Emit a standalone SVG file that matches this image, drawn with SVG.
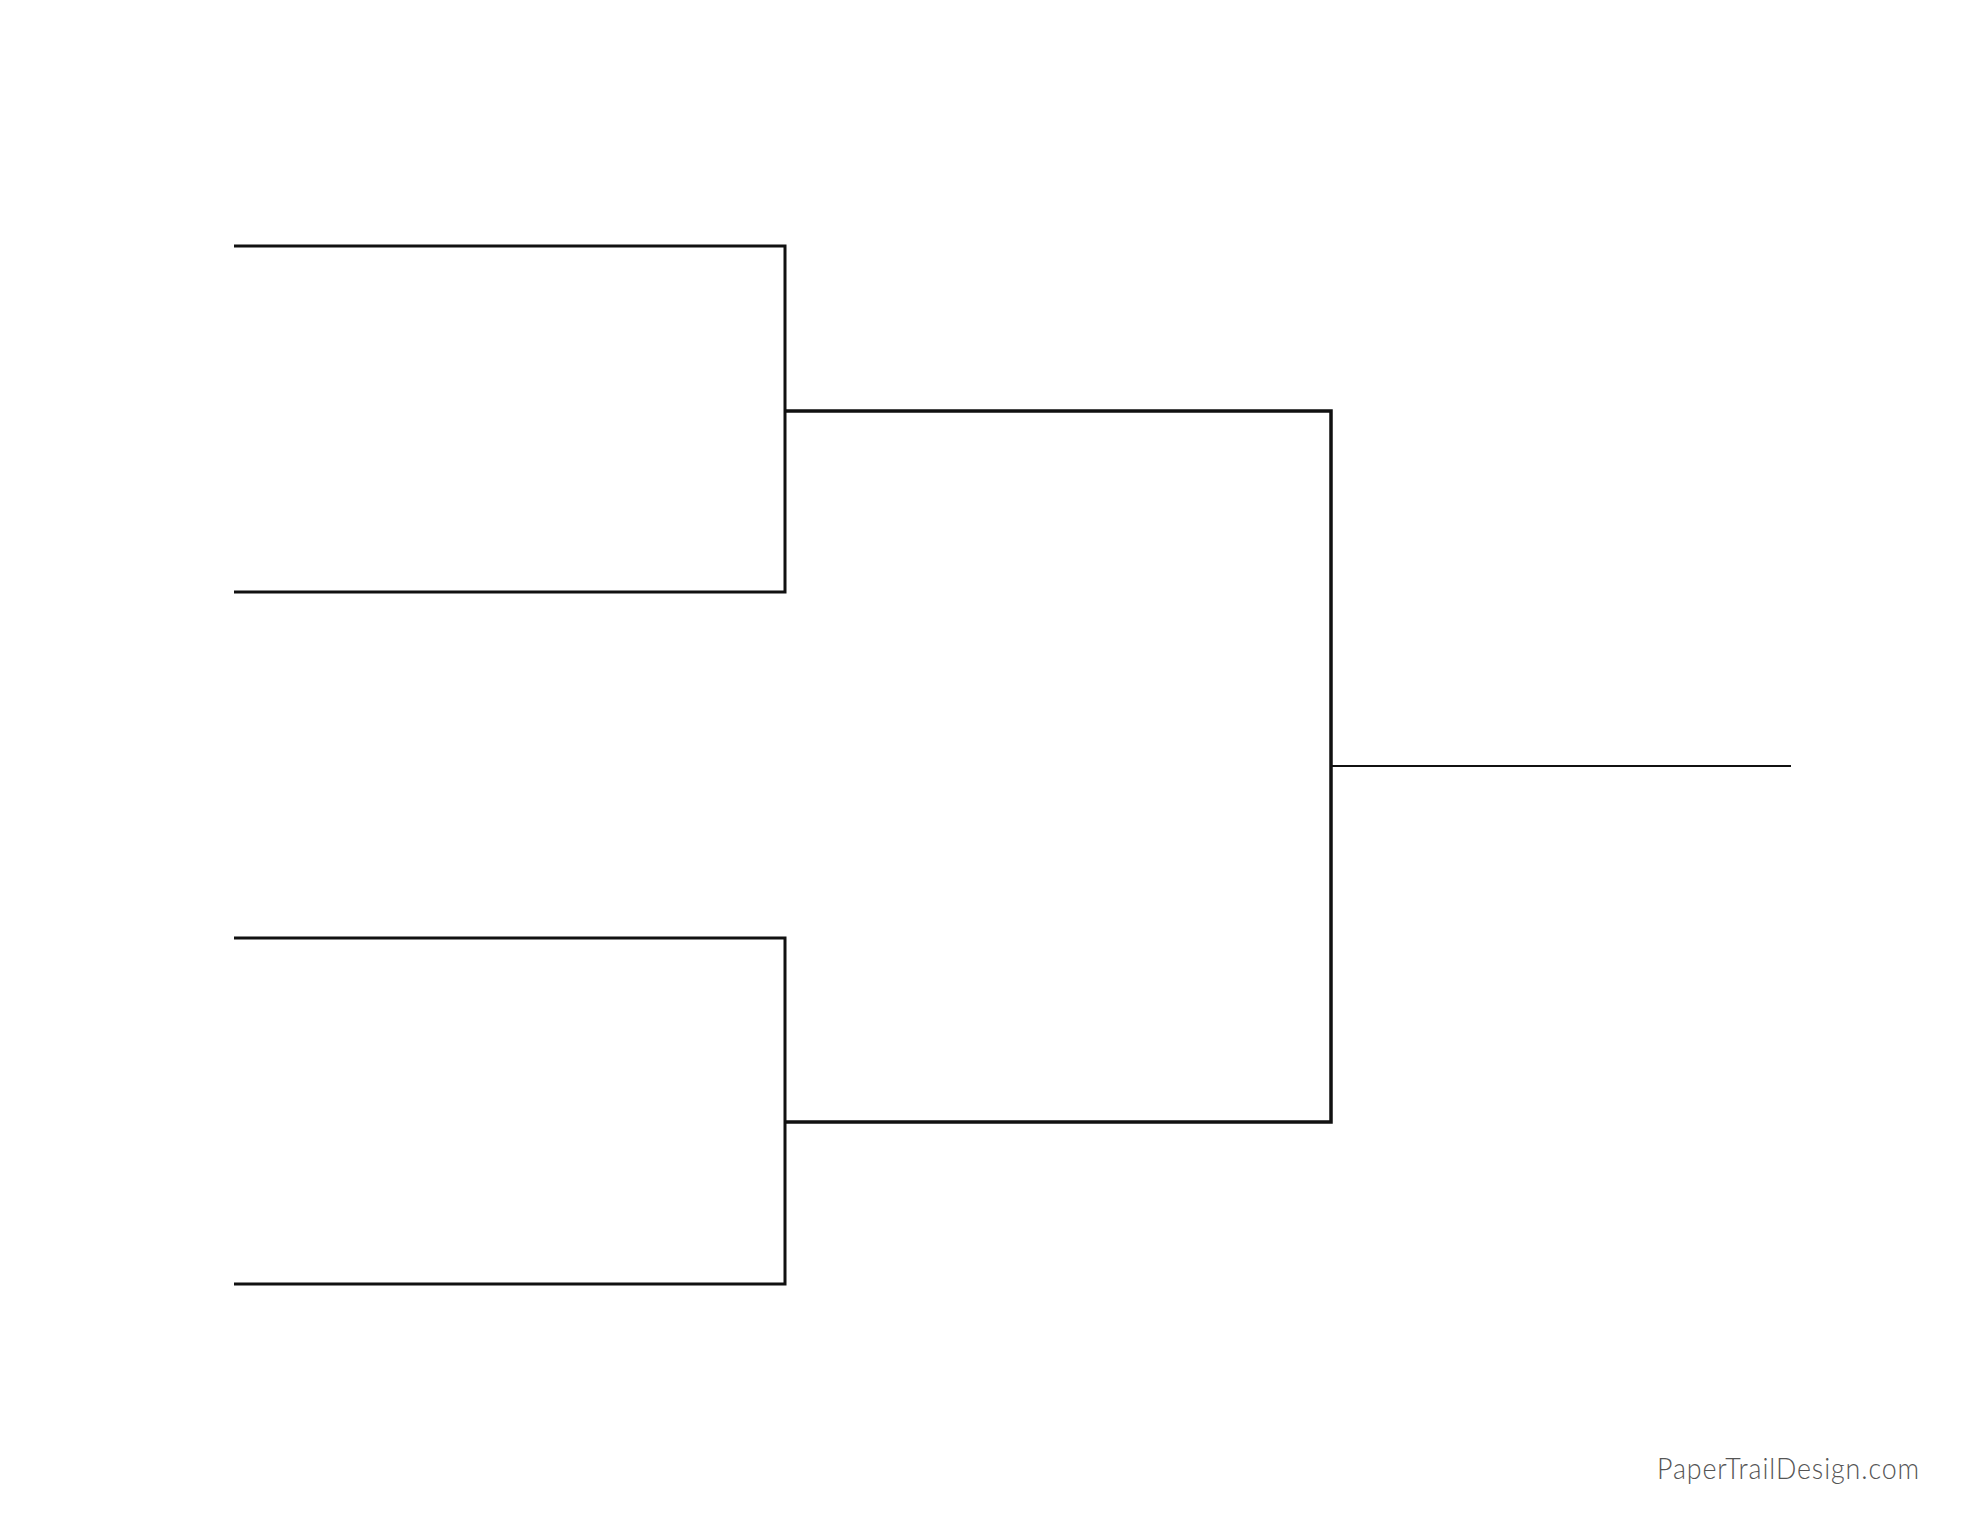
<svg xmlns="http://www.w3.org/2000/svg" width="1980" height="1530" viewBox="0 0 1980 1530">
<style>
.ln{fill:none;stroke:#111;stroke-width:3;stroke-linejoin:miter;stroke-linecap:butt}
.semi{stroke-width:3.5}
.fin{fill:none;stroke:#111;stroke-width:2}
.credit{font-family:Lato,"Open Sans","Liberation Sans",sans-serif;font-weight:300;font-size:30px;fill:#555;letter-spacing:1px}
</style>
<rect width="1980" height="1530" fill="#fff"/>
<g id="connectors">
<g id="bracket-top"><polyline class="ln" points="234,246 785,246 785,592 234,592"/></g>
<g id="bracket-bottom"><polyline class="ln" points="234,938 785,938 785,1284 234,1284"/></g>
<g id="semifinal"><polyline class="ln semi" points="785,411 1331,411 1331,1122 785,1122"/></g>
<g id="final"><line class="fin" x1="1331" y1="766" x2="1791" y2="766"/></g>
</g>
<text id="credit" class="credit" x="1657" y="1479" textLength="263" lengthAdjust="spacingAndGlyphs">PaperTrailDesign.com</text>
</svg>
